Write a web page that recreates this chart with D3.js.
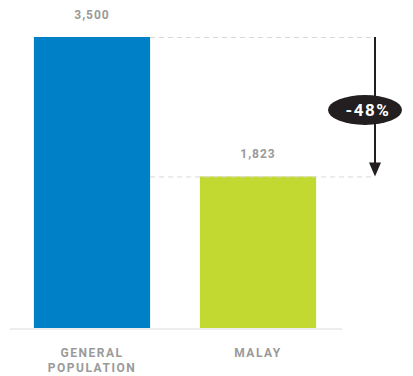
<!DOCTYPE html>
<html>
<head>
<meta charset="utf-8">
<script src="https://cdn.jsdelivr.net/npm/d3@7"></script>
<style>
  body { margin: 0; background: #fff; }
  text { font-family: Roboto, "Liberation Sans", sans-serif; font-weight: 700; }
</style>
</head>
<body>
<div class="canvas"></div>
<script>
// data
const categories = ["GENERAL POPULATION", "MALAY"];
const values = [3500, 1823];
const valueLabels = ["3,500", "1,823"];
const changeLabel = "-48%";
const colors = ["#0080c6", "#c2d932"];

const width = 413;
const height = 376;
const baseY = 328;
const topY = 37;

const svg = d3.select(".canvas").append("svg")
  .attr("width", width)
  .attr("height", height);

const x = d3.scaleBand()
  .domain(categories)
  .range([9, 341])
  .paddingInner(0.3)
  .paddingOuter(0.15);

const y = d3.scaleLinear()
  .domain([0, 3500])
  .range([baseY, topY]);

// bars
svg.selectAll("rect.bar")
  .data(values)
  .join("rect")
  .attr("class", "bar")
  .attr("x", (d, i) => x(categories[i]))
  .attr("y", d => y(d))
  .attr("width", x.bandwidth())
  .attr("height", d => baseY - y(d))
  .attr("fill", (d, i) => colors[i]);

// baseline
svg.append("line")
  .attr("x1", 10).attr("x2", 342)
  .attr("y1", baseY + 1).attr("y2", baseY + 1)
  .attr("stroke", "#dcdcdc")
  .attr("stroke-width", 1);

const arrowX = 375;
const dashStart = x(categories[0]) + x.bandwidth();

// dashed reference lines
svg.selectAll("line.ref")
  .data(values)
  .join("line")
  .attr("class", "ref")
  .attr("x1", dashStart)
  .attr("x2", arrowX)
  .attr("y1", d => y(d) + 0.5)
  .attr("y2", d => y(d) + 0.5)
  .attr("stroke", "#d8d8d8")
  .attr("stroke-width", 1)
  .attr("stroke-dasharray", "5,4");

// value labels
svg.selectAll("text.val")
  .data(valueLabels)
  .join("text")
  .attr("class", "val")
  .attr("x", (d, i) => x(categories[i]) + x.bandwidth() / 2)
  .attr("y", (d, i) => y(values[i]) - 18)
  .attr("text-anchor", "middle")
  .attr("fill", "#9a9a9a")
  .attr("font-size", 12)
  .attr("letter-spacing", 1)
  .text(d => d);

// category labels
const catG = svg.selectAll("text.cat")
  .data(categories)
  .join("text")
  .attr("class", "cat")
  .attr("x", d => x(d) + x.bandwidth() / 2)
  .attr("y", 357)
  .attr("text-anchor", "middle")
  .attr("fill", "#9a9a9a")
  .attr("font-size", 12)
  .attr("letter-spacing", 1.5);

catG.each(function(d) {
  const words = d.split(" ");
  const t = d3.select(this);
  words.forEach((w, i) => {
    t.append("tspan")
      .attr("x", x(d) + x.bandwidth() / 2)
      .attr("dy", i === 0 ? 0 : 15)
      .text(w);
  });
});

// arrow
const y1 = y(values[0]);
const y2 = y(values[1]);
svg.append("line")
  .attr("x1", arrowX).attr("x2", arrowX)
  .attr("y1", y1).attr("y2", y2 - 12)
  .attr("stroke", "#231f20")
  .attr("stroke-width", 2);

svg.append("path")
  .attr("d", `M${arrowX - 6},${y2 - 14} L${arrowX + 6},${y2 - 14} L${arrowX},${y2} Z`)
  .attr("fill", "#231f20");

// change badge
const badgeY = 110;
svg.append("ellipse")
  .attr("cx", 365)
  .attr("cy", badgeY)
  .attr("rx", 37)
  .attr("ry", 15)
  .attr("fill", "#231f20");

svg.append("text")
  .attr("x", 368)
  .attr("y", badgeY + 6)
  .attr("text-anchor", "middle")
  .attr("fill", "#fff")
  .attr("font-size", 17)
  .attr("letter-spacing", 1.5)
  .text(changeLabel);
</script>
</body>
</html>
